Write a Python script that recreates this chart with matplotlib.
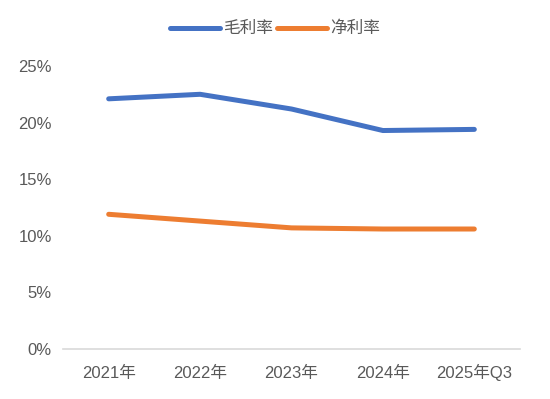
import matplotlib
matplotlib.use("Agg")
import matplotlib.pyplot as plt
from matplotlib.ticker import FuncFormatter

plt.rcParams['font.family'] = ['Liberation Sans', 'Noto Sans CJK SC', 'DejaVu Sans']

# data
categories = ['2021年', '2022年', '2023年', '2024年', '2025年Q3']
gross_margin = [22.1, 22.5, 21.2, 19.3, 19.4]
net_margin = [11.9, 11.3, 10.7, 10.6, 10.6]

fig = plt.figure(figsize=(5.5, 3.99), dpi=100)
ax = fig.add_axes([0.1145, 0.1253, 0.831, 0.7093])

x = range(len(categories))
ax.plot(x, gross_margin, color='#4472C4', linewidth=3.6, solid_capstyle='round', label='毛利率')
ax.plot(x, net_margin, color='#ED7D31', linewidth=3.6, solid_capstyle='round', label='净利率')

ax.set_xlim(-0.5, len(categories) - 0.5)
ax.set_ylim(0, 25)
ax.set_yticks([0, 5, 10, 15, 20, 25])
ax.yaxis.set_major_formatter(FuncFormatter(lambda v, p: f'{v:.0f}%'))
ax.set_xticks(list(x))
ax.set_xticklabels(categories, va='baseline')

for s in ['top', 'right', 'left']:
    ax.spines[s].set_visible(False)
ax.spines['bottom'].set_color('#D9D9D9')
ax.spines['bottom'].set_linewidth(1.2)
ax.tick_params(length=0, labelsize=12, labelcolor='#595959')
ax.tick_params(axis='y', pad=8)
ax.tick_params(axis='x', pad=21)

fig.legend(loc='center', bbox_to_anchor=(0.5, 0.928), ncol=2, frameon=False,
           fontsize=12, labelcolor='#595959', handlelength=3.0, columnspacing=0.2,
           handletextpad=0.2)

fig.savefig('out.png', dpi=100)
